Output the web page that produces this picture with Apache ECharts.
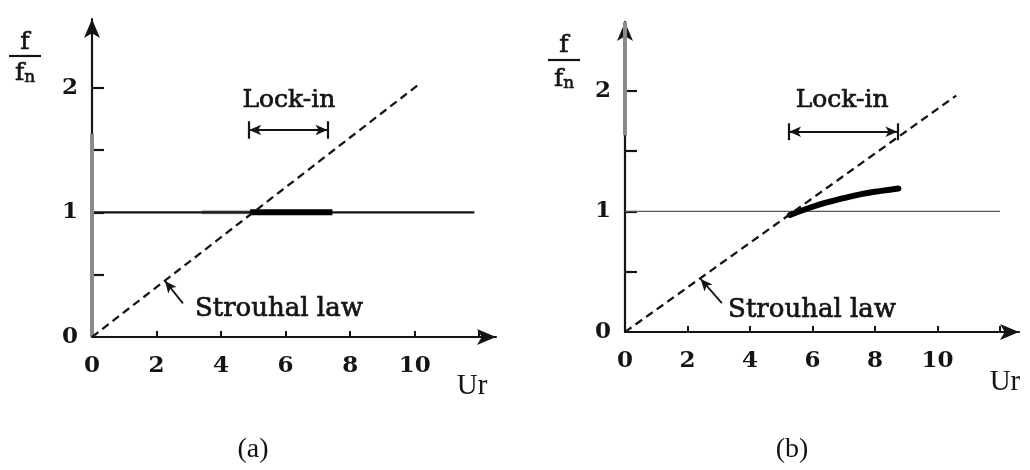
<!DOCTYPE html>
<html>
<head>
<meta charset="utf-8">
<script src="https://cdn.jsdelivr.net/npm/echarts@6/dist/echarts.min.js"></script>
<style>
  html, body { margin: 0; padding: 0; background: #fff; }
  #chart { width: 1030px; height: 470px; }
</style>
</head>
<body>
<div id="chart"></div>
<script>
// ---- axis ticks and labels (shared by both panels) ----
const xTickValues = [2, 4, 6, 8, 10, 12];
const xLabelValues = [0, 2, 4, 6, 8, 10];
const yTickValues = [0.5, 1, 1.5, 2];
const yLabelValues = [0, 1, 2];

// ---- panel (a): lock-in on a fixed natural frequency ----
const strouhalA = [[0, 0], [10.2, 2.04]];          // f/fn = St·Ur
const naturalA = [[0, 1], [11.85, 1]];              // f/fn = 1
const lockFadeA = [[3.4, 1], [4.9, 1]];
const lockA = [[4.9, 1], [7.45, 1]];                // locked shedding
const lockRangeA = [4.87, 7.3];
const lockLevelA = 1.66;
const leaderA = [[2.82, 0.27], [2.26, 0.45]];

// ---- panel (b): lock-in with frequency drift ----
const strouhalB = [[0, 0], [10.6, 1.96]];
const naturalB = [[0, 1], [12, 1]];
const lockCurveB = [[5.28, 0.97], [5.8, 1.02], [6.4, 1.07], [7.0, 1.11], [7.6, 1.145], [8.2, 1.17], [8.75, 1.19]];
const lockRangeB = [5.25, 8.72];
const lockLevelB = 1.66;
const leaderB = [[3.1, 0.24], [2.42, 0.44]];

const INK = '#141414';
const serif = 'DejaVu Serif';

function xAxisCfg(gridIndex, max) {
  return {
    type: 'value', gridIndex: gridIndex, min: 0, max: max,
    axisLine: { show: true, onZero: false, symbol: ['none', 'arrow'], symbolSize: [12, 19],
      lineStyle: { color: INK, width: 2.2 } },
    axisTick: { show: true, inside: true, length: 6, customValues: xTickValues,
      lineStyle: { color: INK, width: 2 } },
    axisLabel: { customValues: xLabelValues, margin: 18, fontFamily: serif, fontWeight: 'bold',
      fontSize: 23, color: INK },
    splitLine: { show: false }
  };
}
function yAxisCfg(gridIndex, max) {
  return {
    type: 'value', gridIndex: gridIndex, min: 0, max: max,
    axisLine: { show: true, onZero: false, symbol: ['none', 'arrow'], symbolSize: [12, 19],
      lineStyle: { color: INK, width: 2.2 } },
    axisTick: { show: true, inside: true, length: 12, customValues: yTickValues,
      lineStyle: { color: INK, width: 2.2 } },
    axisLabel: { customValues: yLabelValues, margin: 14, fontFamily: serif, fontWeight: 'bold',
      fontSize: 23, color: INK },
    splitLine: { show: false }
  };
}

function plain(idx, data, style, z) {
  return { type: 'line', xAxisIndex: idx, yAxisIndex: idx, data: data, symbol: 'none',
    lineStyle: style, z: z || 2, silent: true };
}
function arrowSpan(range, level) {
  return [[{ coord: [range[0], level] }, { coord: [range[1], level] }]];
}
function caps(range, level, h) {
  return [
    [{ coord: [range[0], level - h] }, { coord: [range[0], level + h] }],
    [{ coord: [range[1], level - h] }, { coord: [range[1], level + h] }]
  ];
}

const chart = echarts.init(document.getElementById('chart'), null, { renderer: 'canvas' });

const option = {
  animation: false,
  backgroundColor: '#fff',
  grid: [
    { left: 92, top: 19, width: 404, height: 318 },
    { left: 625, top: 22, width: 394, height: 310 }
  ],
  xAxis: [xAxisCfg(0, 12.52), xAxisCfg(1, 12.61)],
  yAxis: [yAxisCfg(0, 2.55), yAxisCfg(1, 2.57)],
  series: [
    // (a)
    plain(0, lockFadeA, { color: '#a0a0a0', width: 4 }, 2),
    Object.assign(plain(0, naturalA, { color: INK, width: 2.2 }, 3), {
      markLine: { silent: true, symbol: 'none', label: { show: false },
        lineStyle: { type: 'solid', color: INK, width: 2.2 },
        data: caps(lockRangeA, lockLevelA, 0.07).concat([
          [{ coord: [0, 0], lineStyle: { color: '#8a8a8a', width: 4 } }, { coord: [0, 1.63] }]
        ]) }
    }),
    plain(0, lockA, { color: '#000', width: 6, cap: 'butt' }, 4),
    Object.assign(plain(0, strouhalA, { color: INK, width: 2.3, type: [8, 5] }, 5), {
      markLine: { silent: true, symbol: ['none', 'arrow'], symbolSize: [8, 12], label: { show: false },
        lineStyle: { type: 'solid', color: INK, width: 1.8 },
        data: [[{ coord: leaderA[0] }, { coord: leaderA[1] }]] }
    }),
    Object.assign(plain(0, [], { color: INK, width: 2 }, 5), {
      markLine: { silent: true, symbol: ['arrow', 'arrow'], symbolSize: [8, 12], label: { show: false },
        lineStyle: { type: 'solid', color: INK, width: 2.2 },
        data: arrowSpan(lockRangeA, lockLevelA) }
    }),
    // (b)
    Object.assign(plain(1, naturalB, { color: '#555', width: 1.3 }, 2), {
      markLine: { silent: true, symbol: 'none', label: { show: false },
        lineStyle: { type: 'solid', color: INK, width: 2.2 },
        data: caps(lockRangeB, lockLevelB, 0.07).concat([
          [{ coord: [0, 1.63], lineStyle: { color: '#8a8a8a', width: 4 } }, { coord: [0, 2.57] }]
        ]) }
    }),
    Object.assign(plain(1, lockCurveB, { color: '#000', width: 6, cap: 'round' }, 4), { smooth: 0.5 }),
    Object.assign(plain(1, strouhalB, { color: INK, width: 2.3, type: [8, 5] }, 5), {
      markLine: { silent: true, symbol: ['none', 'arrow'], symbolSize: [8, 12], label: { show: false },
        lineStyle: { type: 'solid', color: INK, width: 1.8 },
        data: [[{ coord: leaderB[0] }, { coord: leaderB[1] }]] }
    }),
    Object.assign(plain(1, [], { color: INK, width: 2 }, 5), {
      markLine: { silent: true, symbol: ['arrow', 'arrow'], symbolSize: [8, 12], label: { show: false },
        lineStyle: { type: 'solid', color: INK, width: 2.2 },
        data: arrowSpan(lockRangeB, lockLevelB) }
    })
  ]
};
chart.setOption(option);

// ---- text annotations anchored in data coordinates ----
function at(grid, pt) { return chart.convertToPixel({ gridIndex: grid }, pt); }
function txt(pos, text, size, family, align, heavy) {
  return {
    type: 'text', x: pos[0], y: pos[1], silent: true,
    style: { text: text, fontSize: size, fontFamily: family, fill: INK,
      stroke: heavy ? INK : null, lineWidth: heavy ? 0.7 : 0,
      align: align || 'center', verticalAlign: 'middle' }
  };
}
function fraction(cx, yf, yBar, yfn) {
  return [
    txt([cx, yf], 'f', 25, serif, 'center', true),
    { type: 'line', silent: true, shape: { x1: cx - 16, y1: yBar, x2: cx + 16, y2: yBar },
      style: { stroke: INK, lineWidth: 2.2 } },
    { type: 'text', x: cx, y: yfn, silent: true,
      style: { text: '{f|f}{n|n}', align: 'center', verticalAlign: 'middle', fill: INK,
        stroke: INK, lineWidth: 0.6,
        rich: { f: { fontSize: 25, fontFamily: serif, fill: INK },
                n: { fontSize: 17, fontFamily: serif, fill: INK, verticalAlign: 'bottom', padding: [9, 0, 0, 0] } } } }
  ];
}

const graphics = [
  txt(at(0, [6.1, 1.9]), 'Lock-in', 25, serif, 'center', true),
  txt(at(1, [6.95, 1.92]), 'Lock-in', 25, serif, 'center', true),
  txt(at(0, [3.19, 0.22]), 'Strouhal law', 26, serif, 'left', true),
  txt(at(1, [3.3, 0.18]), 'Strouhal law', 26, serif, 'left', true),
  txt(at(0, [11.78, -0.40]), 'Ur', 29, 'Liberation Serif'),
  txt(at(1, [12.16, -0.42]), 'Ur', 29, 'Liberation Serif'),
  txt([253, 450], '(a)', 28, 'Liberation Serif'),
  txt([792, 450], '(b)', 28, 'Liberation Serif')
].concat(fraction(25, 42, 56, 73), fraction(564, 45, 60, 79));

chart.setOption({ graphic: graphics });
</script>
</body>
</html>
